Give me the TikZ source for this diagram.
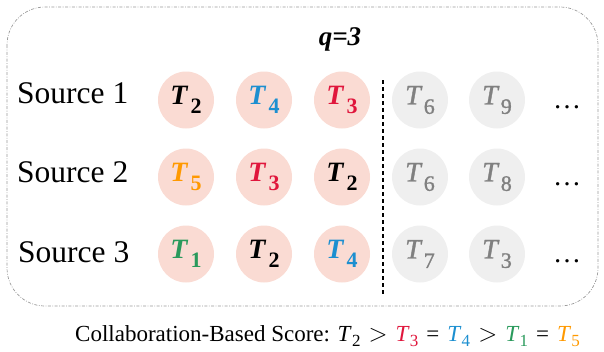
\documentclass[tikz,border=0pt]{standalone}
\usepackage{fontspec}
\setmainfont{Liberation Serif}
\newfontfamily\grayfont[FakeBold=1.2]{Liberation Serif}
\usetikzlibrary{shapes.geometric}
\definecolor{pinkfill}{HTML}{FADBD3}
\definecolor{grayfill}{HTML}{EFEFEF}
\definecolor{graytext}{HTML}{808080}
\definecolor{tblue}{HTML}{1C8FD0}
\definecolor{tred}{HTML}{E0163C}
\definecolor{torange}{HTML}{FF9900}
\definecolor{tgreen}{HTML}{2A9A5C}
\definecolor{framegray}{HTML}{9A9A9A}
\newcommand{\tokT}[2]{\textcolor{#1}{\fontsize{28}{28}\selectfont\bfseries\itshape T\kern3pt\raisebox{-9.5pt}{\fontsize{22}{22}\selectfont\upshape #2}}}
\newcommand{\tokG}[1]{\textcolor{graytext}{\grayfont\fontsize{28}{28}\selectfont\itshape T\kern3pt\raisebox{-9.5pt}{\fontsize{22}{22}\selectfont\upshape #1}}}
\newcommand{\capT}[2]{\textcolor{#1}{\itshape T\kern1.5pt\raisebox{-5pt}{\fontsize{17}{17}\selectfont\upshape #2}}}
\newcommand{\rel}[1]{\hspace{0.35em}#1\hspace{0.35em}}
\tikzset{
  tokcirc/.style={ellipse, minimum width=56pt, minimum height=57pt, inner sep=0pt, fill=pinkfill},
  graycirc/.style={tokcirc, fill=grayfill},
  srclabel/.style={anchor=base west, inner sep=0pt, font=\fontsize{31.5}{32}\selectfont},
  dotslabel/.style={anchor=base, inner sep=0pt, font=\fontsize{28}{28}\selectfont},
  framebox/.style={draw=framegray, line width=0.7pt, dash pattern=on 3pt off 1.5pt on 0.8pt off 1.5pt, rounded corners=38pt},
  divider/.style={draw=black, line width=1.4pt, dash pattern=on 4pt off 3pt}
}
\begin{document}
\begin{tikzpicture}[x=1pt, y=-1pt]
\useasboundingbox (0,0) rectangle (604,351);
\draw[framebox] (7,7) rectangle (598,306);
\node[inner sep=0pt] (q) at (340,39) {\fontsize{27}{27}\selectfont\bfseries\itshape q=3};
% source labels
\node[srclabel] (s1) at (17,103) {Source 1};
\node[srclabel] (s2) at (17,182) {Source 2};
\node[srclabel] (s3) at (18,262) {Source 3};
% row 1
\node[tokcirc] (a1) at (186,100) {\tokT{black}{2}};
\node[tokcirc] (a2) at (264,100) {\tokT{tblue}{4}};
\node[tokcirc] (a3) at (342,100) {\tokT{tred}{3}};
\node[graycirc] (a4) at (420,100) {\tokG{6}};
\node[graycirc] (a5) at (497,100) {\tokG{9}};
\node[dotslabel] (a6) at (567,108) {\ldots};
% row 2
\node[tokcirc] (b1) at (186,177) {\tokT{torange}{5}};
\node[tokcirc] (b2) at (264,177) {\tokT{tred}{3}};
\node[tokcirc] (b3) at (342,177) {\tokT{black}{2}};
\node[graycirc] (b4) at (420,177) {\tokG{6}};
\node[graycirc] (b5) at (497,177) {\tokG{8}};
\node[dotslabel] (b6) at (567,185) {\ldots};
% row 3
\node[tokcirc] (c1) at (186,254) {\tokT{tgreen}{1}};
\node[tokcirc] (c2) at (264,254) {\tokT{black}{2}};
\node[tokcirc] (c3) at (342,254) {\tokT{tblue}{4}};
\node[graycirc] (c4) at (420,254) {\tokG{7}};
\node[graycirc] (c5) at (497,254) {\tokG{3}};
\node[dotslabel] (c6) at (567,262) {\ldots};
% divider
\coordinate (dtop) at (383,80);
\coordinate (dbot) at (383,295);
\draw[divider] (dtop) -- (dbot);
% caption
\node[anchor=base west, inner sep=0pt, font=\fontsize{23}{23}\selectfont] (cap) at (75,341)
  {Collaboration-Based Score: \capT{black}{2}\rel{$>$}\capT{tred}{3}\rel{=}\capT{tblue}{4}\rel{$>$}\capT{tgreen}{1}\rel{=}\capT{torange}{5}};
\end{tikzpicture}
\end{document}
